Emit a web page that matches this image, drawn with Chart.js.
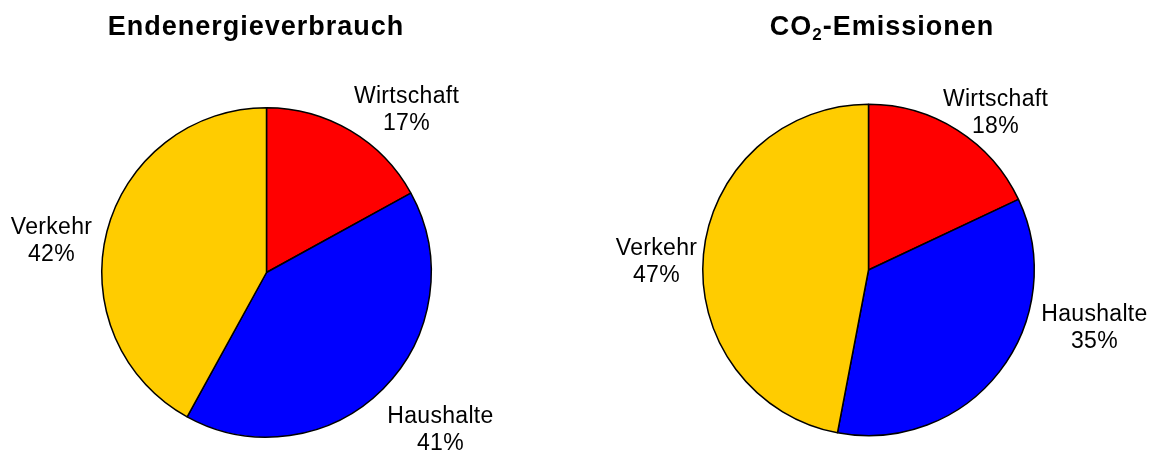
<!DOCTYPE html>
<html>
<head>
<meta charset="utf-8">
<script src="https://cdn.jsdelivr.net/npm/chart.js@4"></script>
<style>
  body { margin: 0; background: #fff; }
  .box { position: absolute; top: 0; width: 575px; height: 450px; }
</style>
</head>
<body>
<div class="box" style="left:0"><canvas id="pieEnergy" width="575" height="450"></canvas></div>
<div class="box" style="left:575px"><canvas id="pieCo2" width="575" height="450"></canvas></div>
<script>
var sectors = ['Wirtschaft', 'Haushalte', 'Verkehr'];
var energyShare = [17, 41, 42];
var co2Share = [18, 35, 47];
var sectorColors = ['#ff0000', '#0000ff', '#ffcc00'];

var FONT = '"Liberation Sans", Arial, Helvetica, sans-serif';

// title + labels drawn next to the pie
var pieText = {
    id: 'pieText',
    afterDraw: function (chart, args, opts) {
        var c = chart.ctx;
        var arc = chart.getDatasetMeta(0).data[0];
        var data = chart.data.datasets[0].data;
        c.save();
        c.fillStyle = '#000';
        c.textBaseline = 'middle';

        // title, parts may be subscript
        c.letterSpacing = '1px';
        var total = 0;
        opts.title.forEach(function (p) {
            c.font = (p.sub ? 'bold 17px ' : 'bold 27px ') + FONT;
            total += c.measureText(p.t).width;
        });
        var x = opts.titleX - total / 2;
        c.textAlign = 'left';
        opts.title.forEach(function (p) {
            c.font = (p.sub ? 'bold 17px ' : 'bold 27px ') + FONT;
            c.fillText(p.t, x, p.sub ? 35 : 28);
            x += c.measureText(p.t).width;
        });

        c.letterSpacing = '0.3px';
        c.font = '23px ' + FONT;
        c.textAlign = 'center';
        chart.data.labels.forEach(function (lab, i) {
            var lx = arc.x + opts.offsets[i][0];
            var ly = arc.y + opts.offsets[i][1];
            c.fillText(lab, lx, ly - 13.5);
            c.fillText(data[i] + '%', lx, ly + 13.5);
        });
        c.restore();
    }
};

function makePie(id, values, pad, title, titleX, offsets) {
    return new Chart(document.getElementById(id), {
        type: 'pie',
        data: {
            labels: sectors,
            datasets: [{
                data: values,
                backgroundColor: sectorColors,
                borderColor: '#000',
                borderWidth: 1.5
            }]
        },
        options: {
            responsive: false,
            animation: false,
            layout: { padding: pad },
            plugins: {
                legend: { display: false },
                tooltip: { enabled: false },
                pieText: { title: title, titleX: titleX, offsets: offsets }
            }
        },
        plugins: [pieText]
    });
}

makePie('pieEnergy', energyShare,
    { left: 101, right: 143, top: 107, bottom: 12 },
    [{ t: 'Endenergieverbrauch' }], 256,
    [[140, -162], [174, 158], [-215, -31]]);

makePie('pieCo2', co2Share,
    { left: 127, right: 115, top: 103, bottom: 13 },
    [{ t: 'CO' }, { t: '2', sub: true }, { t: '-Emissionen' }], 307,
    [[127, -157], [226, 58], [-212, -8]]);
</script>
</body>
</html>
